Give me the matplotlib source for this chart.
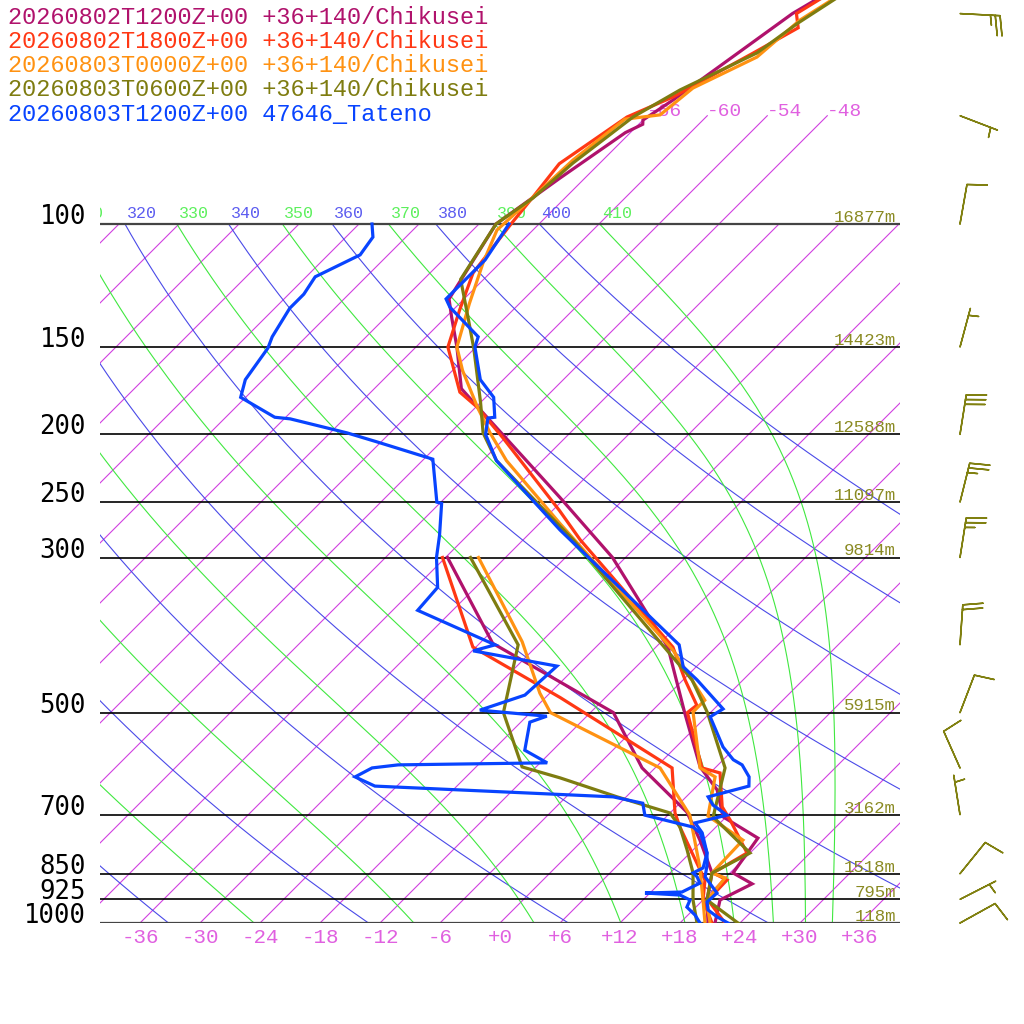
import numpy as np
import matplotlib
matplotlib.use("Agg")
import matplotlib.pyplot as plt
from matplotlib.transforms import offset_copy

# ---------------- data ----------------
levels = [1000, 925, 850, 700, 500, 300, 250, 200, 150, 100]
level_labels = ["1000", "925", "850", "700", "500", "300", "250", "200", "150", "100"]
heights = ["118m", "795m", "1518m", "3162m", "5915m", "9814m", "11097m", "12588m", "14423m", "16877m"]
temp_ticks = [-36, -30, -24, -18, -12, -6, 0, 6, 12, 18, 24, 30, 36]
temp_tick_labels = ["-36", "-30", "-24", "-18", "-12", "-6", "+0", "+6", "+12", "+18", "+24", "+30", "+36"]
upper_isotherms = [-66, -60, -54, -48]
dry_thetas = list(range(200, 401, 20))
moist_thetas = list(range(230, 411, 20))

legend = [
    "20260802T1200Z+00 +36+140/Chikusei",
    "20260802T1800Z+00 +36+140/Chikusei",
    "20260803T0000Z+00 +36+140/Chikusei",
    "20260803T0600Z+00 +36+140/Chikusei",
    "20260803T1200Z+00 47646_Tateno",
]
colors = ["#b0126c", "#ff3814", "#ff9212", "#7e7c10", "#0844ff"]

# 2026-08-02 12Z
t1_p = [1000, 927, 879, 848, 756, 705, 645, 598, 501, 403, 348, 300, 246, 186, 172, 150, 136, 128,
        100, 86, 74, 72, 71, 66.5, 50, 40]
t1_t = [21.5, 19.7, 21.3, 18.3, 17.3, 11.7, 8.4, 4.4, -2.5, -10.8, -18.0, -25.3, -36.6, -52.8, -57.3,
        -61.9, -65.4, -67.5, -70.3, -68.5, -66.5, -65.6, -66.0, -65.0, -61.7, -57.0]
t1_dp = [1000, 927, 848, 761, 694, 600, 500, 398, 300]
t1_d = [20.8, 18.4, 16.2, 11.7, 7.6, -1.3, -9.7, -28.7, -41.8]

# 2026-08-02 18Z
t2_p = [1000, 927, 868, 848, 794, 712, 682, 610, 600, 500, 488, 449, 403, 283, 257, 202, 183, 174,
        150, 133, 117.5, 100, 91.5, 82, 70.3, 65.8, 57, 52.4, 50, 40]
t2_t = [22.5, 18.5, 18.4, 16.3, 17.7, 12.7, 10.6, 7.0, 4.7, -2.3, -2.1, -5.8, -10.3, -30.3, -35.3,
        -48.3, -53.8, -57.1, -62.8, -65.3, -67.7, -68.8, -69.3, -70.0, -67.9, -65.3, -61.7, -59.7,
        -61.3, -57.0]
t2_dp = [1000, 927, 868, 821, 729, 696, 600, 476, 403, 300]
t2_d = [21.2, 18.0, 16.2, 13.7, 8.4, 6.5, 1.7, -16.5, -30.3, -42.3]

# 2026-08-03 00Z
t3_p = [1000, 927, 862, 848, 761, 703, 618, 600, 499, 480, 407, 268, 218, 199, 183, 162, 150, 130,
        113.7, 102, 92.4, 81, 70.8, 69.8, 63.9, 57.7, 51.1, 40]
t3_t = [21.0, 18.4, 18.0, 16.2, 16.0, 10.1, 6.9, 4.5, -1.8, -1.8, -10.0, -34.0, -45.6, -50.0, -53.8,
        -59.0, -61.9, -65.0, -67.7, -69.6, -69.3, -69.0, -67.9, -64.8, -64.2, -60.9, -60.3, -56.0]
t3_dp = [1000, 927, 832, 701, 600, 500, 469, 396, 300]
t3_d = [20.5, 18.0, 14.4, 8.2, 0.5, -16.0, -19.0, -25.9, -38.7]

# 2026-08-03 06Z
t4_p = [1000, 927, 848, 794, 705, 600, 500, 449, 283, 271, 218, 199, 180, 151, 137, 120, 100, 91.8,
        81.8, 70.3, 64.3, 56.9, 51.6, 40]
t4_t = [23.8, 18.4, 16.2, 18.0, 10.7, 7.0, -0.3, -5.1, -31.0, -33.6, -46.6, -50.7, -54.0, -60.0,
        -63.5, -68.3, -70.3, -69.2, -68.7, -67.3, -65.3, -61.3, -60.2, -56.0]
t4_dp = [1000, 927, 848, 786, 729, 696, 660, 620, 598, 500, 400, 300]
t4_d = [19.7, 17.0, 14.3, 11.4, 8.4, 6.0, -0.9, -8.5, -13.4, -20.7, -26.0, -39.5]

# Tateno 2026-08-03 12Z
b_p = [1000, 980, 958, 933, 906, 859, 826, 794, 743, 719, 701, 678, 660, 637, 618, 594, 584, 560,
       507, 494, 449, 430, 400, 283, 274, 218, 200, 189.5, 189, 177, 167, 150, 145, 131.5, 128,
       112.5, 100]
b_t = [22.8, 21.1, 19.5, 18.6, 18.7, 15.9, 14.9, 13.7, 11.2, 9.5, 11.9, 9.5, 8.2, 11.2, 10.3, 8.4,
       7.0, 4.7, 0.4, 0.9, -4.6, -7.3, -9.9, -31.3, -33.3, -46.6, -50.3, -51.7, -51.1, -53.2, -56.3,
       -60.1, -60.8, -66.6, -67.8, -67.8, -69.0]
b_dp = [1000, 974, 949, 927, 912, 906, 903, 877, 859, 848, 834, 794, 743, 729, 701, 674, 660, 637,
        618, 600, 594, 590, 566, 516, 506, 496, 472, 429, 408, 400, 357, 331, 300, 279, 251, 250,
        217, 205, 199, 190, 189, 177, 167, 150.5, 145, 132, 126, 119, 110.7, 104.4, 100]
b_d = [20.0, 18.7, 17.1, 16.7, 15.2, 11.5, 15.1, 16.0, 15.1, 14.3, 14.8, 13.7, 11.0, 9.7, 3.7, 2.3,
       -1.3, -26.2, -29.1, -28.3, -26.0, -11.3, -14.8, -17.1, -16.0, -23.3, -20.3, -20.0, -29.9,
       -28.3, -39.5, -39.8, -42.9, -44.8, -47.8, -48.4, -53.1, -60.4, -64.3, -71.4, -73.1, -78.5,
       -79.8, -80.7, -81.4, -82.5, -82.5, -83.1, -80.8, -81.3, -82.7]

# wind barbs (direction from, knots)
w_p = [1000, 925, 850, 700, 600, 500, 400, 300, 250, 200, 150, 100, 70, 50]
w_dir = [61, 63, 39, 351, 336, 21, 4, 9, 14, 9, 15, 10, 111, 93]
w_spd = [10, 5, 10, 5, 10, 10, 20, 25, 25, 30, 5, 10, 5, 25]

traces = [(t1_p, t1_t, t1_dp, t1_d), (t2_p, t2_t, t2_dp, t2_d), (t3_p, t3_t, t3_dp, t3_d),
          (t4_p, t4_t, t4_dp, t4_d), (b_p, b_t, b_dp, b_d)]

# ---------------- layout ----------------
W = H = 1024.0
X0, X1, YB = 100.0, 900.0, 923.0      # plot box in pixels (left, right, 1000 hPa line)
PX_DEC = 699.0                        # pixels per decade of pressure
PX_DEG = 10.0                         # pixels per degree C
SKEW = PX_DEC / PX_DEG
p_top = 1000.0 * 10 ** (-YB / PX_DEC)

MONO = "Liberation Mono"
ISO_C = "#d040e0"
DRY_C = "#4a4ae8"
MOIST_C = "#40e840"


def skx(t, p):
    return np.asarray(t, float) + SKEW * np.log10(1000.0 / np.asarray(p, float))


def theta_e_sat(tk, p):
    es = 6.112 * np.exp(17.67 * (tk - 273.15) / (tk - 29.65))
    r = 622.0 * es / (p - es)
    return tk * (1000.0 / p) ** (0.2854 * (1 - 0.28e-3 * r)) * np.exp((3.376 / tk - 0.00254) * r * (1 + 0.81e-3 * r))


def t_start(the):
    lo, hi = 200.0, 320.0
    for _ in range(60):
        mid = 0.5 * (lo + hi)
        if theta_e_sat(mid, 1000.0) > the:
            hi = mid
        else:
            lo = mid
    return 0.5 * (lo + hi)


def dtdp(tk, p):
    rd, cp, lv, eps = 287.04, 1005.7, 2.501e6, 0.622
    es = 6.112 * np.exp(17.67 * (tk - 273.15) / (tk - 29.65))
    rs = eps * es / (p - es)
    return (rd * tk + lv * rs) / (cp + lv * lv * rs * eps / (rd * tk * tk)) / p


def moist_profile(the, pg):
    tk = np.empty_like(pg)
    tk[0] = t_start(the)
    for i in range(len(pg) - 1):
        h = pg[i + 1] - pg[i]
        t, p = tk[i], pg[i]
        k1 = dtdp(t, p)
        k2 = dtdp(t + 0.5 * h * k1, p + 0.5 * h)
        k3 = dtdp(t + 0.5 * h * k2, p + 0.5 * h)
        k4 = dtdp(t + h * k3, p + h)
        tk[i + 1] = t + h * (k1 + 2 * k2 + 2 * k3 + k4) / 6
    return tk - 273.15


fig = plt.figure(figsize=(10.24, 10.24), dpi=100)
ax = fig.add_axes([X0 / W, (H - YB) / H, (X1 - X0) / W, YB / H])
ax.set_yscale("log")
ax.set_ylim(1000, p_top)
ax.set_xlim(-40, 40)
ax.axis("off")

pg = np.geomspace(1000, 100, 200)
ylab = offset_copy(ax.transData, fig=fig, y=4, units="points")


def theta_label(x, th, col):
    # the leftmost label is partly hidden behind the box edge, as in the original
    if x < -46:
        return
    t = ax.text(x + 0.2, 100, str(th), color=col, fontsize=12, family=MONO,
                ha="left", va="baseline", transform=ylab, clip_on=True)
    t.set_clip_box(ax.bbox)


# isotherms
for t in range(-108, 37, 6):
    ptop = 70 if t in upper_isotherms else 100
    ax.plot(skx([t, t], [1000, ptop]), [1000, ptop], color=ISO_C, lw=0.8, zorder=1)
for t in upper_isotherms:
    ax.text(skx(t, 70), 70, "%d" % t, color="#e060e0", fontsize=14, family=MONO,
            ha="left", va="baseline", zorder=2)

# dry adiabats
for th in dry_thetas:
    tc = th * (pg / 1000.0) ** 0.2857 - 273.15
    ax.plot(skx(tc, pg), pg, color=DRY_C, lw=0.8, zorder=1)
    theta_label(float(skx(tc[-1], 100)), th, "#5c5cf0")

# moist adiabats
for th in moist_thetas:
    tc = moist_profile(th, pg)
    ax.plot(skx(tc, pg), pg, color=MOIST_C, lw=0.8, zorder=1)
    theta_label(float(skx(tc[-1], 100)), th, "#5cf05c")

# pressure lines and labels
ytr = ax.get_yaxis_transform()
htr = offset_copy(ytr, fig=fig, y=1.5, units="points")
for p, lab, hgt in zip(levels, level_labels, heights):
    edge = p in (100, 1000)
    ax.axhline(p, color="#444444" if edge else "black", lw=1.6 if edge else 1.2, zorder=2)
    ax.text(-0.0175, p, lab, transform=ytr, ha="right", va="baseline", fontsize=18.5,
            family="DejaVu Sans Mono", color="black", clip_on=False)
    ax.text(0.995, p, hgt, transform=htr, ha="right", va="baseline", fontsize=12.5,
            family=MONO, color="#8a8a22", zorder=2)

# temperature labels along the bottom
btr = offset_copy(ax.transData, fig=fig, y=-3.5, units="points")
for t, lab in zip(temp_ticks, temp_tick_labels):
    ax.text(t, 1000, lab, transform=btr, ha="center", va="top", fontsize=15, family=MONO,
            color="#e060e0", clip_on=False)

# soundings
for (tp, tt, dp, dd), c in zip(traces, colors):
    ax.plot(skx(dd, dp), dp, color=c, lw=2.3, zorder=4, solid_joinstyle="miter")
    ax.plot(skx(tt, tp), tp, color=c, lw=2.3, zorder=4, solid_joinstyle="miter")

# legend text
for i, (txt, c) in enumerate(zip(legend, colors)):
    fig.text(8 / W, 1 - (24.5 + 24 * i) / H, txt, color=c, fontsize=17, family=MONO, va="baseline")

# wind barbs
bax = fig.add_axes([930 / W, (H - YB) / H, 94 / W, YB / H])
bax.set_yscale("log")
bax.set_ylim(1000, p_top)
bax.set_xlim(0, 1)
bax.axis("off")
wd = np.radians(w_dir)
ws = np.asarray(w_spd, float)
u = -ws * np.sin(wd)
v = -ws * np.cos(wd)
bax.barbs(np.full(len(w_p), 30 / 94), w_p, u, v, length=7.6, color="#808010", linewidth=1.1,
          sizes=dict(height=0.5, width=0.15, spacing=0.12), clip_on=False)

fig.savefig("out.png", dpi=100)
